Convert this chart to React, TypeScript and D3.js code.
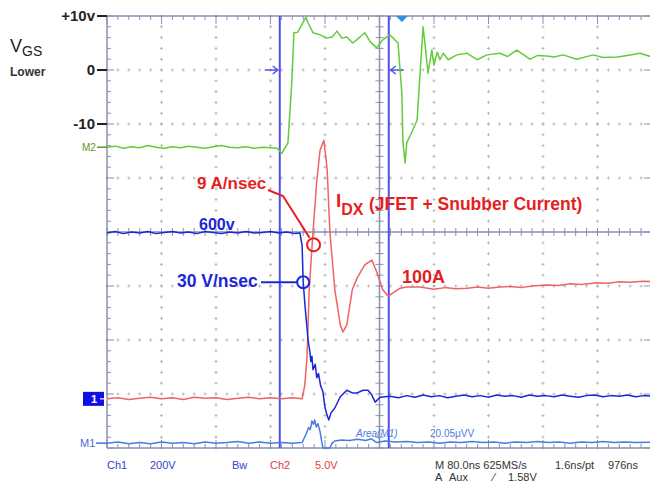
import React from 'react'
import * as d3 from 'd3'

// scope screen: 10 horizontal divisions (80 ns/div), 8 vertical divisions
// every trace is stored as [time in div from left edge, level in div from screen centre]

const greenVgs: [number, number][] = [
  [0, 1.57], [0.15, 1.59], [0.3, 1.55], [0.45, 1.58], [0.6, 1.56], [0.75, 1.6], [0.9, 1.57],
  [1.05, 1.55], [1.2, 1.58], [1.35, 1.56], [1.5, 1.59], [1.65, 1.57], [1.8, 1.55], [1.95, 1.58],
  [2.1, 1.6], [2.25, 1.57], [2.4, 1.56], [2.55, 1.58], [2.7, 1.55], [2.85, 1.57], [3.0, 1.56],
  [3.12, 1.55], [3.21, 1.46], [3.32, 1.65], [3.39, 2.76], [3.43, 3.69], [3.5, 3.7], [3.58, 3.85],
  [3.65, 3.98], [3.69, 3.87], [3.78, 3.69], [3.91, 3.65], [4.04, 3.59], [4.13, 3.61], [4.22, 3.72],
  [4.31, 3.59], [4.4, 3.61], [4.51, 3.5], [4.64, 3.61], [4.73, 3.69], [4.83, 3.52], [4.95, 3.41],
  [5.06, 3.56], [5.19, 3.65], [5.34, 3.5], [5.41, 2.57], [5.43, 1.65], [5.47, 1.28], [5.5, 1.65],
  [5.61, 1.89], [5.69, 2.07], [5.74, 2.87], [5.8, 3.8], [5.85, 3.33], [5.89, 2.94], [5.96, 3.37],
  [6.0, 3.09], [6.06, 3.33], [6.11, 3.19], [6.17, 3.31], [6.26, 3.19], [6.42, 3.28], [6.61, 3.31],
  [6.79, 3.19], [6.97, 3.28], [7.21, 3.31], [7.35, 3.25], [7.52, 3.37], [7.76, 3.2], [7.9, 3.27],
  [8.07, 3.26], [8.2, 3.24], [8.37, 3.28], [8.62, 3.2], [8.92, 3.28], [9.1, 3.23], [9.36, 3.24],
  [9.55, 3.27], [9.78, 3.31], [10, 3.24],
]

const redIdx: [number, number][] = [
  [0, -3.09], [0.2, -3.07], [0.4, -3.1], [0.6, -3.08], [0.8, -3.06], [1.0, -3.09], [1.2, -3.07],
  [1.4, -3.1], [1.6, -3.06], [1.8, -3.08], [2.0, -3.07], [2.2, -3.1], [2.4, -3.08], [2.6, -3.06],
  [2.8, -3.09], [3.0, -3.07], [3.2, -3.09], [3.4, -3.07], [3.58, -3.09], [3.63, -2.83], [3.67, -2.31],
  [3.71, -1.07], [3.78, 0], [3.85, 0.96], [3.91, 1.52], [3.98, 1.7], [4.04, 1.15], [4.09, 0],
  [4.18, -1.07], [4.28, -1.72], [4.33, -1.85], [4.4, -1.72], [4.5, -1.07], [4.59, -0.85],
  [4.73, -0.61], [4.86, -0.52], [4.95, -0.74], [5.06, -1.07], [5.16, -1.19], [5.26, -1.12],
  [5.38, -1.04], [5.5, -1.02], [5.74, -1.02], [6.0, -1.06], [6.2, -1.03], [6.4, -1.05], [6.61, -1.04],
  [6.8, -1.02], [7.0, -1.04], [7.21, -1.02], [7.4, -1.01], [7.6, -1.03], [7.8, -1.0], [8.07, -0.98],
  [8.3, -0.99], [8.5, -0.96], [8.7, -0.97], [8.99, -0.94], [9.2, -0.95], [9.4, -0.92], [9.6, -0.93],
  [9.83, -0.91], [10, -0.92],
]

const blueVds: [number, number][] = [
  [0, -0.02], [0.15, 0.01], [0.3, -0.03], [0.45, 0.0], [0.6, -0.02], [0.75, 0.01], [0.9, -0.03],
  [1.05, -0.01], [1.2, 0.01], [1.35, -0.02], [1.5, 0.0], [1.65, -0.03], [1.8, 0.01], [1.95, -0.01],
  [2.1, -0.03], [2.25, 0.0], [2.4, -0.02], [2.55, 0.01], [2.7, -0.02], [2.85, -0.01], [3.0, 0.01],
  [3.15, -0.02], [3.3, 0.0], [3.45, -0.03], [3.54, -0.02], [3.58, -0.25], [3.6, -0.93], [3.64, -1.45],
  [3.69, -2.0], [3.72, -2.2], [3.74, -2.4], [3.76, -2.3], [3.78, -2.55], [3.82, -2.45], [3.85, -2.7],
  [3.88, -2.62], [3.92, -2.85], [3.96, -2.95], [4.0, -3.25], [4.04, -3.4], [4.07, -3.48], [4.11, -3.35],
  [4.18, -3.26], [4.28, -3.05], [4.4, -2.93], [4.5, -2.98], [4.59, -2.98], [4.7, -2.93], [4.79, -2.93],
  [4.86, -3.02], [4.92, -3.15], [5.01, -3.06], [5.19, -3.04], [5.35, -3.07], [5.5, -3.03], [5.65, -3.06],
  [5.8, -3.02], [5.95, -3.05], [6.1, -3.03], [6.25, -3.07], [6.4, -3.04], [6.55, -3.02], [6.7, -3.05],
  [6.85, -3.03], [7.0, -3.06], [7.15, -3.02], [7.3, -3.04], [7.45, -3.03], [7.6, -3.06], [7.75, -3.02],
  [7.9, -3.04], [8.05, -3.03], [8.2, -3.05], [8.35, -3.02], [8.5, -3.04], [8.65, -3.06], [8.8, -3.03],
  [8.95, -3.02], [9.1, -3.05], [9.25, -3.03], [9.4, -3.04], [9.55, -3.02], [9.7, -3.05], [9.85, -3.03],
  [10, -3.04],
]

const mathM1: [number, number][] = [
  [0, -3.91], [0.2, -3.89], [0.4, -3.92], [0.6, -3.9], [0.8, -3.92], [1.0, -3.89], [1.2, -3.91],
  [1.4, -3.9], [1.6, -3.92], [1.8, -3.89], [2.0, -3.91], [2.2, -3.9], [2.4, -3.88], [2.6, -3.91],
  [2.8, -3.89], [3.0, -3.91], [3.2, -3.9], [3.4, -3.91], [3.58, -3.9], [3.65, -3.75], [3.7, -3.62],
  [3.73, -3.66], [3.76, -3.5], [3.79, -3.56], [3.81, -3.48], [3.84, -3.61], [3.87, -3.55], [3.91, -3.7],
  [3.96, -4.0], [4.09, -4.0], [4.13, -3.91], [4.18, -3.87], [4.3, -3.85], [4.45, -3.86], [4.6, -3.84],
  [4.75, -3.86], [4.85, -3.83], [4.95, -3.9], [5.1, -3.87], [5.3, -3.89], [5.5, -3.88], [5.7, -3.9],
  [5.9, -3.89], [6.1, -3.91], [6.3, -3.89], [6.5, -3.9], [6.7, -3.88], [6.9, -3.9], [7.1, -3.89],
  [7.3, -3.91], [7.5, -3.89], [7.7, -3.9], [7.9, -3.88], [8.1, -3.9], [8.3, -3.89], [8.5, -3.91],
  [8.7, -3.89], [8.9, -3.9], [9.1, -3.88], [9.3, -3.9], [9.5, -3.89], [9.7, -3.9], [10, -3.89],
]

const cursorsDiv = [3.17, 5.17]
const triggerDiv = 5.41
const vgsTicks = [
  { label: '+10v', div: 4 },
  { label: '0', div: 3 },
  { label: '-10', div: 2 },
]
const slewPoints = {
  di: [3.79, -0.2],
  dv: [3.6, -0.93],
}

const W = 650
const H = 485

export default function App() {
  const x = d3.scaleLinear().domain([0, 10]).range([107, 652])
  const y = d3.scaleLinear().domain([-4, 4]).range([448, 16])
  const line = d3.line<[number, number]>().x(d => x(d[0])).y(d => y(d[1]))

  const minor = d3.range(0, 10.01, 0.2)
  const minorY = d3.range(-4, 4.01, 0.2)
  const frame = '#8a90b0'
  const grid = '#b9b9b9'

  const dots: React.ReactNode[] = []
  d3.range(1, 10).filter(i => i !== 5).forEach(i => {
    minorY.forEach((v, j) => {
      dots.push(<g key={`v${i}-${j}`}>
        <line x1={x(i) - 1.5} x2={x(i) + 1.5} y1={y(v)} y2={y(v)} />
        <line x1={x(i)} x2={x(i)} y1={y(v) - 1.5} y2={y(v) + 1.5} />
      </g>)
    })
  })
  d3.range(-3, 4).filter(k => k !== 0).forEach(k => {
    minor.forEach((t, j) => {
      dots.push(<g key={`h${k}-${j}`}>
        <line x1={x(t) - 1.5} x2={x(t) + 1.5} y1={y(k)} y2={y(k)} />
        <line x1={x(t)} x2={x(t)} y1={y(k) - 1.5} y2={y(k) + 1.5} />
      </g>)
    })
  })

  const isMajor = (v: number) => Math.abs(v - Math.round(v)) < 0.01

  const red = '#e61e1e'
  const blue = '#1a28d8'

  return (
    <svg width={W} height={H} style={{ position: 'fixed', left: 0, top: 0, background: '#fff' }}
      fontFamily="'Liberation Sans', Arial, sans-serif">
      <g stroke={grid} strokeWidth={1}>{dots}</g>

      {/* frame & centre axes */}
      <g stroke={frame} strokeWidth={1.5}>
        <line x1={x(0)} x2={x(0)} y1={y(4)} y2={y(-4)} />
        <line x1={x(0)} x2={x(10)} y1={y(4)} y2={y(4)} />
        <line x1={x(0)} x2={x(10)} y1={y(-4)} y2={y(-4)} />
        <line x1={x(5)} x2={x(5)} y1={y(4)} y2={y(-4)} />
        <line x1={x(0)} x2={x(10)} y1={y(0)} y2={y(0)} />
      </g>
      <g stroke={frame} strokeWidth={1}>
        {minorY.map((v, i) => (
          <g key={'l' + i}>
            <line x1={x(0)} x2={x(0) + (isMajor(v) ? 7 : 4)} y1={y(v)} y2={y(v)} />
            <line x1={x(5) - 4} x2={x(5) + 4} y1={y(v)} y2={y(v)} />
            {isMajor(v) && <line x1={x(10) - 8} x2={x(10)} y1={y(v)} y2={y(v)} />}
          </g>
        ))}
        {minor.map((t, i) => (
          <g key={'t' + i}>
            <line x1={x(t)} x2={x(t)} y1={y(4)} y2={y(4) + (isMajor(t) ? 8 : 4)} />
            <line x1={x(t)} x2={x(t)} y1={y(-4)} y2={y(-4) - (isMajor(t) ? 8 : 4)} />
            <line x1={x(t)} x2={x(t)} y1={y(0) - 4} y2={y(0) + 4} />
          </g>
        ))}
      </g>

      {/* cursors */}
      <g stroke="#4f4fe6" strokeWidth={2}>
        {cursorsDiv.map(c => <line key={c} x1={x(c)} x2={x(c)} y1={y(4)} y2={y(-4)} />)}
      </g>
      <g stroke="#4f4fe6" strokeWidth={1.5} fill="none">
        <line x1={x(cursorsDiv[0]) - 15} x2={x(cursorsDiv[0]) - 2} y1={y(3)} y2={y(3)} />
        <path d={`M${x(cursorsDiv[0]) - 7},${y(3) - 4} L${x(cursorsDiv[0]) - 2},${y(3)} L${x(cursorsDiv[0]) - 7},${y(3) + 4}`} />
        <line x1={x(cursorsDiv[1]) + 15} x2={x(cursorsDiv[1]) + 2} y1={y(3)} y2={y(3)} />
        <path d={`M${x(cursorsDiv[1]) + 7},${y(3) - 4} L${x(cursorsDiv[1]) + 2},${y(3)} L${x(cursorsDiv[1]) + 7},${y(3) + 4}`} />
      </g>
      <path d={`M${x(triggerDiv) - 6},${y(4)} L${x(triggerDiv) + 6},${y(4)} L${x(triggerDiv)},${y(4) + 6}Z`} fill="#2f8ee0" />

      {/* traces */}
      <g fill="none" strokeWidth={1.5} strokeLinejoin="round">
        <path d={line(mathM1)!} stroke="#4a7be0" />
        <path d={line(greenVgs)!} stroke="#62cc3a" />
        <path d={line(redIdx)!} stroke="#ec6464" />
        <path d={line(blueVds)!} stroke={blue} />
      </g>

      {/* left scale for VGS */}
      {vgsTicks.map(t => (
        <g key={t.label}>
          <line x1={97} x2={x(0)} y1={y(t.div)} y2={y(t.div)} stroke="#222" strokeWidth={2} />
          <text x={95} y={y(t.div) + 5} textAnchor="end" fontSize={15} fontWeight="bold" fill="#222">{t.label}</text>
        </g>
      ))}
      <text x={10} y={52} fontSize={18} fill="#222">V<tspan fontSize={14} dy={4}>GS</tspan></text>
      <text x={10} y={76} fontSize={12} fontWeight="bold" fill="#333">Lower</text>

      {/* channel markers */}
      <text x={82} y={y(1.57) + 4} fontSize={10} fill="#5a9a2a">M2</text>
      <line x1={97} x2={x(0)} y1={y(1.57)} y2={y(1.57)} stroke="#5a9a2a" strokeWidth={1.5} />
      <rect x={83} y={y(-3.09) - 7} width={21} height={14} fill="#1010e0" />
      <text x={91} y={y(-3.09) + 4.5} fontSize={11} fontWeight="bold" fill="#fff">1</text>
      <path d={`M${x(0) - 7},${y(-3.09)} L${x(0)},${y(-3.09)}`} stroke="#fff" strokeWidth={1.2} />
      <text x={80} y={y(-3.91) + 4} fontSize={11} fill="#4a6ee0">M1</text>
      <line x1={96} x2={x(0)} y1={y(-3.91)} y2={y(-3.91)} stroke="#4a6ee0" strokeWidth={1.5} />

      {/* annotations */}
      <text x={197} y={189} fontSize={17} fontWeight="bold" fill={red}>9 A/nsec</text>
      <polyline points={`268,190 283,196 ${x(slewPoints.di[0]) - 4},${y(slewPoints.di[1]) - 5}`} fill="none" stroke={red} strokeWidth={2} />
      <circle cx={x(slewPoints.di[0])} cy={y(slewPoints.di[1]) + 2} r={6.5} fill="none" stroke={red} strokeWidth={2} />
      <text x={336} y={207} fontSize={19} fontWeight="bold" fill={red}>I<tspan fontSize={16} dy={8}>DX</tspan></text>
      <text x={369} y={210} fontSize={17.5} fontWeight="bold" fill={red}>(JFET + Snubber Current)</text>
      <text x={402} y={283} fontSize={18} fontWeight="bold" fill={red}>100A</text>

      <text x={199} y={230} fontSize={16} fontWeight="bold" fill={blue}>600v</text>
      <text x={177} y={287} fontSize={17.5} fontWeight="bold" fill={blue}>30 V/nsec</text>
      <line x1={261} x2={x(slewPoints.dv[0]) - 6} y1={y(slewPoints.dv[1])} y2={y(slewPoints.dv[1])} stroke={blue} strokeWidth={2} />
      <circle cx={x(slewPoints.dv[0])} cy={y(slewPoints.dv[1])} r={6} fill="none" stroke={blue} strokeWidth={2} />

      <text x={356} y={437} fontSize={10} fill="#4a7be0" fontStyle="italic">Area(M1)</text>
      <text x={430} y={437} fontSize={10} fill="#4a7be0">20.05μVV</text>

      {/* status line */}
      <g fontSize={11}>
        <text x={107} y={469} fill="#3344cc">Ch1</text>
        <text x={150} y={469} fill="#3344cc">200V</text>
        <text x={232} y={469} fill="#3344cc">Bw</text>
        <text x={270} y={469} fill="#e04040">Ch2</text>
        <text x={315} y={469} fill="#e04040">5.0V</text>
        <text x={435} y={469} fill="#333">M 80.0ns 625MS/s</text>
        <text x={555} y={469} fill="#333">1.6ns/pt</text>
        <text x={608} y={469} fill="#333">976ns</text>
        <text x={435} y={481} fill="#333">A</text>
        <text x={449} y={481} fill="#333">Aux</text>
        <text x={493} y={481} fill="#333">⁄</text>
        <text x={508} y={481} fill="#333">1.58V</text>
      </g>
    </svg>
  )
}
